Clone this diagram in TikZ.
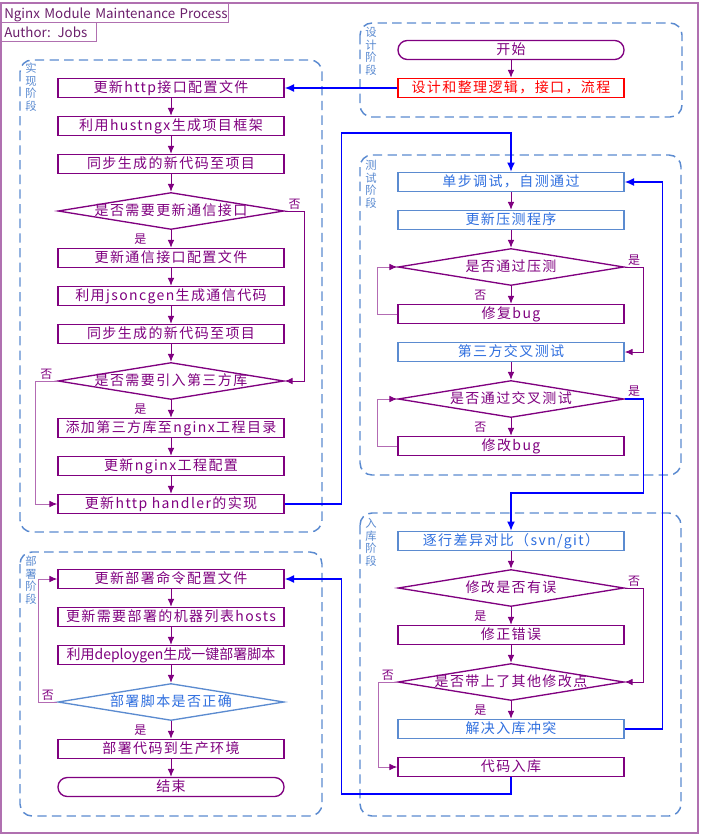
\documentclass[tikz,border=0pt]{standalone}
\usepackage{fontspec}
\newfontfamily\cjk[LetterSpace=10]{Noto Sans CJK SC}
\newfontfamily\cjkplain{Noto Sans CJK SC}
\usetikzlibrary{arrows.meta,positioning,calc,shapes.geometric}

\definecolor{flowpurple}{HTML}{800080}
\definecolor{lightpurple}{HTML}{B36BB3}
\definecolor{framepurple}{HTML}{B070B0}
\definecolor{titletext}{HTML}{6B1E6B}
\definecolor{boxblue}{HTML}{5B8BD0}
\definecolor{textblue}{HTML}{2F6FDF}
\definecolor{groupblue}{HTML}{5A8AD0}
\definecolor{linkblue}{HTML}{0000FF}

\begin{document}
\begin{tikzpicture}[
  x=0.75pt, y=-0.75pt,
  node distance=13.25pt,
  >=Latex,
  every node/.style={font=\cjk\fontsize{10.5}{12}\selectfont},
  box/.style={draw=flowpurple, text=flowpurple, line width=1pt, fill=white, minimum width=169.5pt, minimum height=14.25pt, inner xsep=2pt, inner ysep=0pt, text height=7.4pt, text depth=0pt},
  bluebox/.style={box, draw=boxblue, text=textblue},
  redbox/.style={box, draw=red, text=red},
  terminal/.style={box, rounded corners=7pt},
  decision/.style={box, diamond, aspect=6, inner sep=0pt, minimum height=27.75pt},
  titlebox/.style={draw=framepurple, line width=1pt, text=titletext, font=\cjkplain\fontsize{10}{12}\selectfont, inner xsep=2pt, inner ysep=0pt, minimum height=14.25pt, text height=7.4pt, text depth=0pt, align=left},
  phase/.style={draw=groupblue, line width=1.1pt, dash pattern=on 7pt off 4pt, rounded corners=9pt},
  phaselbl/.style={font=\cjkplain\fontsize{8.5}{9.4}\selectfont, text=groupblue, align=center, inner sep=0pt},
  lbl/.style={font=\cjkplain\fontsize{9}{10}\selectfont, text=flowpurple, inner sep=1pt},
  flow/.style={draw=flowpurple, line width=0.75pt, -{Latex[length=6pt,width=5pt]}},
  backflow/.style={flow, draw=lightpurple, -{Latex[length=6pt,width=5pt,color=flowpurple]}},
  link/.style={draw=linkblue, line width=1.1pt, -{Latex[length=7pt,width=6pt]}}
]
\useasboundingbox (0,0) rectangle (701,835);

% Cadre et titre
\draw[framepurple, line width=1.2pt] (1,3) rectangle (698,833);
\node[titlebox, text width=166.25pt, anchor=north west] (title) at (1,3) {\mbox{Nginx Module Maintenance Process}};
\node[titlebox, text width=67.25pt, anchor=north west] (author) at (1,22) {\mbox{Author: Jobs}};

% Phases
\draw[phase] (360,23) rectangle (682,117);
\draw[phase] (20,60) rectangle (322,532);
\draw[phase] (360,155) rectangle (681,475);
\draw[phase] (360,513) rectangle (681,816);
\draw[phase] (20,552) rectangle (322,816);
\node[phaselbl, anchor=north] (designlbl) at (371,27) {设\\计\\阶\\段};
\node[phaselbl, anchor=north] (implbl) at (31,63) {实\\现\\阶\\段};
\node[phaselbl, anchor=north] (testlbl) at (371,160) {测\\试\\阶\\段};
\node[phaselbl, anchor=north] (commitlbl) at (371,518) {入\\库\\阶\\段};
\node[phaselbl, anchor=north] (deploylbl) at (31,556) {部\\署\\阶\\段};

% Nodes (设计阶段)
\node[terminal] (start) at (511,50) {开始};
\node[redbox, below=of start] (design) {设计和整理逻辑，接口，流程};

% Nodes (实现阶段)
\node[box] (httpconf) at (171,88) {更新http接口配置文件};
\node[box, below=of httpconf] (hustngx) {利用hustngx生成项目框架};
\node[box, below=of hustngx] (sync1) {同步生成的新代码至项目};
\node[decision, below=of sync1] (needcomm) {是否需要更新通信接口};
\node[box, below=of needcomm] (commconf) {更新通信接口配置文件};
\node[box, below=of commconf] (jsoncgen) {利用jsoncgen生成通信代码};
\node[box, below=of jsoncgen] (sync2) {同步生成的新代码至项目};
\node[decision, below=of sync2] (needlib) {是否需要引入第三方库};
\node[box, below=of needlib] (addlib) {添加第三方库至nginx工程目录};
\node[box, below=of addlib] (nginxconf) {更新nginx工程配置};
\node[box, below=of nginxconf] (handler) {更新http handler的实现};

% Nodes (测试阶段)
\node[bluebox] (unittest) at (511,182) {单步调试，自测通过};
\node[bluebox, below=of unittest] (stressprog) {更新压测程序};
\node[decision, below=of stressprog] (passstress) {是否通过压测};
\node[box, below=of passstress] (fixbug) {修复bug};
\node[bluebox, below=of fixbug] (crosstest) {第三方交叉测试};
\node[decision, below=of crosstest] (passcross) {是否通过交叉测试};
\node[box, below=of passcross] (modbug) {修改bug};

% Nodes (入库阶段)
\node[bluebox] (diff) at (511,541) {逐行差异对比（svn/git）};
\node[decision, below=of diff] (haserr) {修改是否有误};
\node[box, below=of haserr] (fixerr) {修正错误};
\node[decision, below=of fixerr] (othermod) {是否带上了其他修改点};
\node[bluebox, below=of othermod] (conflict) {解决入库冲突};
\node[box, below=of conflict] (checkin) {代码入库};

% Nodes (部署阶段)
\node[box] (deployconf) at (171,579) {更新部署命令配置文件};
\node[box, below=of deployconf] (hosts) {更新需要部署的机器列表hosts};
\node[box, font=\cjkplain\fontsize{10.5}{12}\selectfont, below=of hosts] (deploygen) {利用deploygen生成一键部署脚本};
\node[decision, draw=boxblue, text=textblue, below=of deploygen] (scriptok) {部署脚本是否正确};
\node[box, below=of scriptok] (release) {部署代码到生产环境};
\node[terminal, below=of release] (end) {结束};

% Flèches (设计 -> 实现)
\draw[flow] (start) -- (design);
\draw[link] (design) -- (httpconf);

% Flèches (实现阶段)
\draw[flow] (httpconf) -- (hustngx);
\draw[flow] (hustngx) -- (sync1);
\draw[flow] (sync1) -- (needcomm);
\draw[flow] (needcomm) -- node[lbl, left=6mm]{是} (commconf);
\draw[flow] (commconf) -- (jsoncgen);
\draw[flow] (jsoncgen) -- (sync2);
\draw[flow] (sync2) -- (needlib);
\draw[flow] (needcomm.east) -- node[lbl, above]{否} ++(20,0) |- (needlib.east);
\draw[flow] (needlib) -- node[lbl, left=6mm]{是} (addlib);
\draw[flow] (addlib) -- (nginxconf);
\draw[flow] (nginxconf) -- (handler);
\draw[backflow] (needlib.west) -- node[lbl, above]{否} ++(-22,0) |- (handler.west);
\draw[link] (handler.east) -- ++(57,0) |- ($(unittest.north)+(0,-39)$) -- (unittest.north);

% Flèches (测试阶段)
\draw[flow] (unittest) -- (stressprog);
\draw[flow] (stressprog) -- (passstress);
\draw[flow] (passstress) -- node[lbl, left=6mm]{否} (fixbug);
\draw[backflow] (fixbug.west) -- ++(-20,0) |- (passstress.west);
\draw[flow] (passstress.east) -- node[lbl, above]{是} ++(19,0) |- (crosstest.east);
\draw[flow] (crosstest) -- (passcross);
\draw[flow] (passcross) -- node[lbl, left=6mm]{否} (modbug);
\draw[backflow] (modbug.west) -- ++(-20,0) |- (passcross.west);
\draw[link] (passcross.east) -- node[lbl, above]{是} ++(19,0) |- ($(diff.north)+(0,-38)$) -- (diff.north);

% Flèches (入库阶段)
\draw[flow] (diff) -- (haserr);
\draw[flow] (haserr) -- node[lbl, left=6mm]{是} (fixerr);
\draw[flow] (fixerr) -- (othermod);
\draw[flow] (haserr.east) -- node[lbl, above]{否} ++(19,0) |- (othermod.east);
\draw[flow] (othermod) -- node[lbl, left=6mm]{是} (conflict);
\draw[backflow] (othermod.west) -- node[lbl, above]{否} ++(-19,0) |- (checkin.west);
\draw[link] (conflict.east) -- ++(38,0) |- (unittest.east);
\draw[link] (checkin.south) -- ++(0,17) -| ($(deployconf.east)+(57,0)$) -- (deployconf.east);

% Flèches (部署阶段)
\draw[flow] (deployconf) -- (hosts);
\draw[flow] (hosts) -- (deploygen);
\draw[flow] (deploygen) -- (scriptok);
\draw[backflow] (scriptok.west) -- node[lbl, above]{否} ++(-19,0) |- (deployconf.west);
\draw[flow] (scriptok) -- node[lbl, left=6mm]{是} (release);
\draw[flow] (release) -- (end);

\end{tikzpicture}
\end{document}
